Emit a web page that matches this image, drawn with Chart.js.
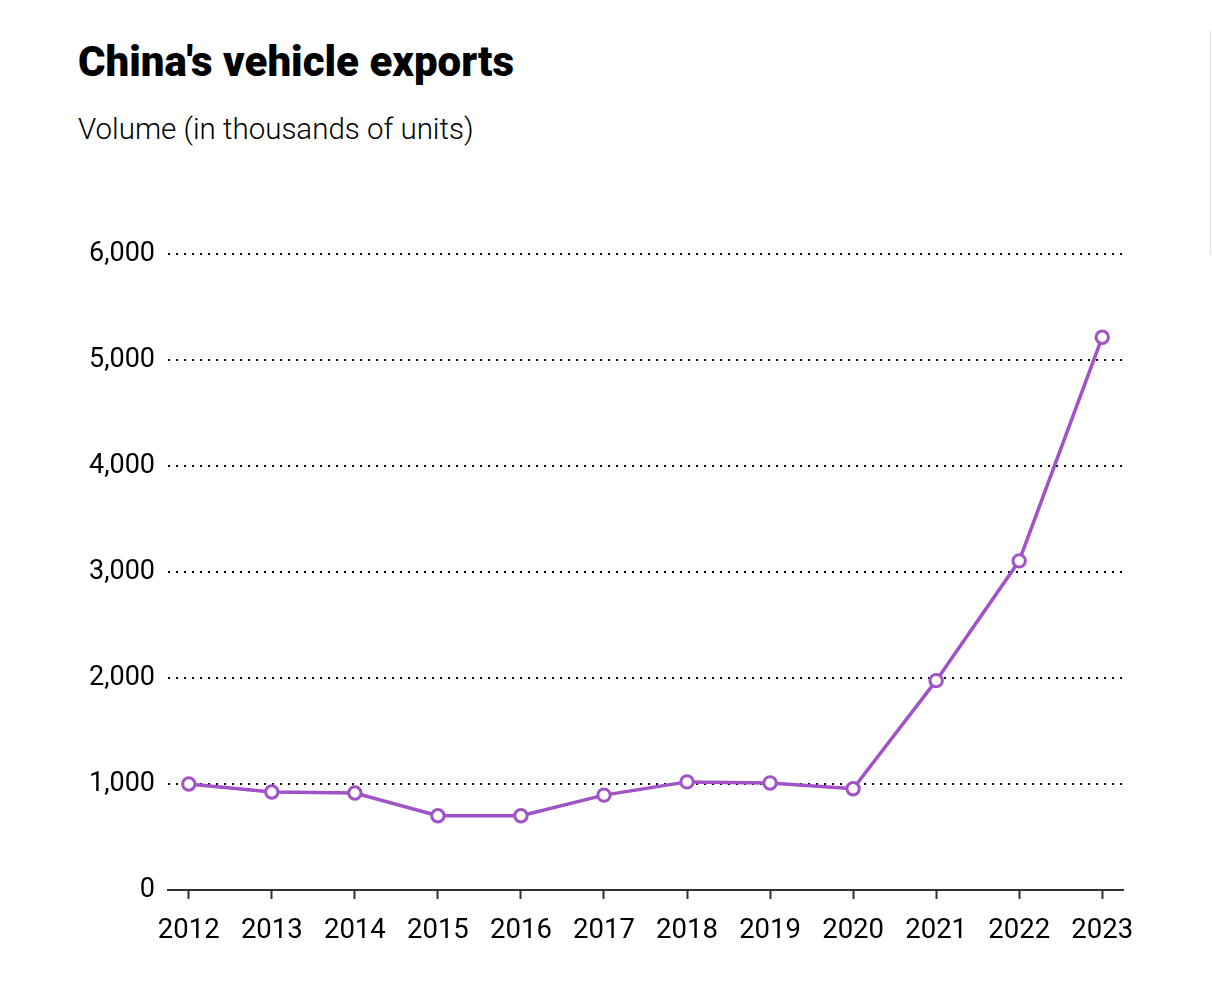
<!DOCTYPE html>
<html>
<head>
<meta charset="utf-8">
<title>China's vehicle exports</title>
<script src="https://cdn.jsdelivr.net/npm/chart.js@4/dist/chart.umd.min.js"></script>
<style>
  html, body { margin: 0; padding: 0; background: #fff; }
  body { width: 1212px; height: 990px; position: relative; overflow: hidden; font-family: Roboto, sans-serif; }
  #title { position: absolute; left: 78px; top: 37px; font-size: 42px; font-weight: 900; color: #000; line-height: 50px; margin: 0; }
  #subtitle { position: absolute; left: 78px; top: 111px; font-size: 29.5px; font-weight: 300; color: #000; line-height: 36px; margin: 0; }
  #edge { position: absolute; left: 1210px; top: 31px; width: 1px; height: 224px; background: #dfe4ea; }
  #wrap { position: absolute; left: 0; top: 0; width: 1212px; height: 990px; }
</style>
</head>
<body>
<h1 id="title">China's vehicle exports</h1>
<p id="subtitle">Volume (in thousands of units)</p>
<div id="edge"></div>
<div id="wrap"><canvas id="myChart" width="1212" height="990"></canvas></div>
<script>
'use strict';

// years on the x axis
const years = [2012, 2013, 2014, 2015, 2016, 2017, 2018, 2019, 2020, 2021, 2022, 2023];
// exports, thousands of units
const exportsK = [1000, 925, 915, 700, 700, 895, 1020, 1010, 955, 1975, 3105, 5215];
// y axis ticks
const yTicks = [0, 1000, 2000, 3000, 4000, 5000, 6000];

const purple = '#a152c6';
const dark = '#333333';

const points = years.map(function(y, i){
    return {x: y, y: exportsK[i]};
});

const chart = document.getElementById('myChart');
const myChart = new Chart(chart, {
    type: 'line',
    data: {
        datasets: [{
            label: 'Volume',
            data: points,
            borderColor: purple,
            borderWidth: 3.5,
            pointRadius: 6.2,
            pointBorderWidth: 3,
            pointBackgroundColor: '#ffffff',
            pointBorderColor: purple,
            tension: 0,
        }],
    },
    options: {
        responsive: false,
        animation: false,
        events: [],
        layout: {
            padding: {left: 0, right: 89, top: 254, bottom: 0},
        },
        plugins: {
            legend: {display: false},
            tooltip: {enabled: false},
        },
        scales: {
            x: {
                type: 'linear',
                min: 2011.75,
                max: 2023.25,
                afterBuildTicks: function(scale){
                    scale.ticks = years.map(function(v){ return {value: v}; });
                },
                afterFit: function(scale){
                    scale.height = 100;
                },
                grid: {
                    drawOnChartArea: false,
                    drawTicks: true,
                    tickLength: 9,
                    tickWidth: 2,
                    tickColor: dark,
                },
                border: {display: true, color: dark, width: 2},
                ticks: {
                    autoSkip: false,
                    maxRotation: 0,
                    padding: 16,
                    color: '#000',
                    font: {family: 'Roboto', size: 27.5},
                    callback: function(v){ return String(v); },
                },
            },
            y: {
                min: 0,
                max: 6000,
                afterBuildTicks: function(scale){
                    scale.ticks = yTicks.map(function(v){ return {value: v}; });
                },
                afterFit: function(scale){
                    scale.width = 168;
                },
                grid: {
                    drawTicks: false,
                    color: function(ctx){
                        return ctx.tick && ctx.tick.value === 0 ? 'rgba(0,0,0,0)' : '#000';
                    },
                    lineWidth: 2,
                },
                border: {display: false, dash: [2, 6]},
                ticks: {
                    padding: 13,
                    color: '#000',
                    font: {family: 'Roboto', size: 27},
                    callback: function(v){ return v.toLocaleString('en-US'); },
                },
            },
        },
    },
});
</script>
</body>
</html>
